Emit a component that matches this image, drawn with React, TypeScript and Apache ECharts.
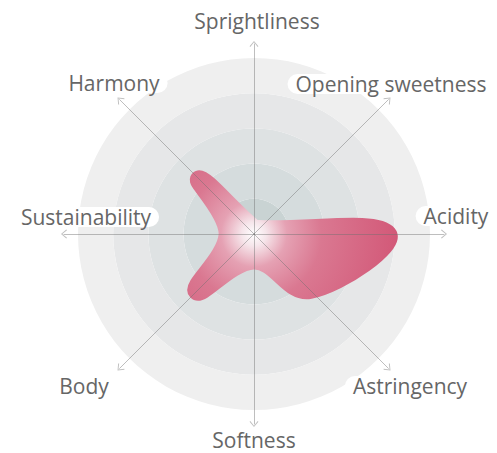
import React, { useEffect, useRef } from 'react';
import * as echarts from 'echarts';

// ---- data ----
const categories = ['Sprightliness', 'Opening sweetness', 'Acidity', 'Astringency', 'Softness', 'Body', 'Sustainability', 'Harmony'];
const values = [0.15, 0.2, 3.8, 2.25, 0.75, 2.3, 0.75, 2.2];
const maxValue = 5;
const ringColors = ['#c9d3d3', '#d5dcdd', '#dee2e3', '#e6e7e8', '#efefef'];

// ---- layout ----
const CX = 254;
const CY = 234;
const R_RING = 176;
const R_AXIS = 190;
const labelPos: Record<string, [number, number]> = {
  'Sprightliness': [257, 21],
  'Opening sweetness': [391, 84],
  'Acidity': [456, 216],
  'Astringency': [410, 386],
  'Softness': [254, 440],
  'Body': [84, 386],
  'Sustainability': [86, 217],
  'Harmony': [114, 83],
};
const CHEVRON = 'path://M0,6 L5,0 L10,6 L9.2,6.8 L5,1.5 L0.8,6.8 Z';

export default function App() {
  const ref = useRef<HTMLDivElement>(null);
  useEffect(() => {
    document.body.style.margin = '0';
    const chart = echarts.init(ref.current!, undefined, { renderer: 'svg' });
    const stops = [
      { offset: 0, color: '#ffffff' },
      { offset: 0.08, color: '#f6e6eb' },
      { offset: 0.22, color: '#e5a1b3' },
      { offset: 0.45, color: '#da7891' },
      { offset: 1, color: '#d25676' },
    ];
    const option: any = {
      animation: false,
      polar: { center: [CX, CY], radius: R_RING },
      angleAxis: {
        type: 'value', min: 0, max: categories.length, startAngle: 90, clockwise: true,
        axisLine: { show: false }, axisTick: { show: false }, axisLabel: { show: false }, splitLine: { show: false }, z: 0,
      },
      radiusAxis: {
        type: 'value', min: 0, max: maxValue, interval: 1,
        axisLine: { show: false }, axisTick: { show: false }, axisLabel: { show: false }, splitLine: { show: false },
        splitArea: { show: true, areaStyle: { color: ringColors } }, z: 0,
      },
      radar: {
        center: [CX, CY], radius: R_AXIS, startAngle: 90, shape: 'circle', splitNumber: 5,
        indicator: categories.map((n) => ({ name: n, max: maxValue })),
        axisName: { show: false },
        splitLine: { show: false },
        splitArea: { show: false },
        axisLine: { show: true, symbol: ['none', CHEVRON], symbolSize: [10, 6], lineStyle: { color: 'rgba(110,110,110,0.45)', width: 1 } },
        z: 3,
      },
      series: [{
        type: 'custom',
        coordinateSystem: 'polar',
        data: values.map((v, i) => [v, i]),
        encode: { radius: 0, angle: 1 },
        z: 2,
        renderItem: (params: any, api: any) => {
          if (params.dataIndex !== 0) return null;
          const pts = values.map((v, i) => api.coord([v, i]));
          const c = api.coord([0, 0]);
          const grad = new echarts.graphic.RadialGradient(c[0], c[1], 150, stops, true);
          return {
            type: 'polygon',
            shape: { points: pts, smooth: 0.4 },
            style: { fill: grad, stroke: grad, lineWidth: 18, lineJoin: 'round' },
          };
        },
      }],
      graphic: categories.map((name) => ({
        type: 'text', z: 10,
        style: {
          text: name, x: labelPos[name][0], y: labelPos[name][1],
          align: 'center', verticalAlign: 'middle', textAlign: 'center', textVerticalAlign: 'middle',
          font: '21px "Open Sans"', lineHeight: 18, fill: '#666666',
          backgroundColor: '#ffffff', padding: [1, 8], borderRadius: 11,
        },
      })),
    };
    chart.setOption(option);
    return () => chart.dispose();
  }, []);
  return <div ref={ref} style={{ position: 'absolute', left: 0, top: 0, width: 497, height: 453 }} />;
}
